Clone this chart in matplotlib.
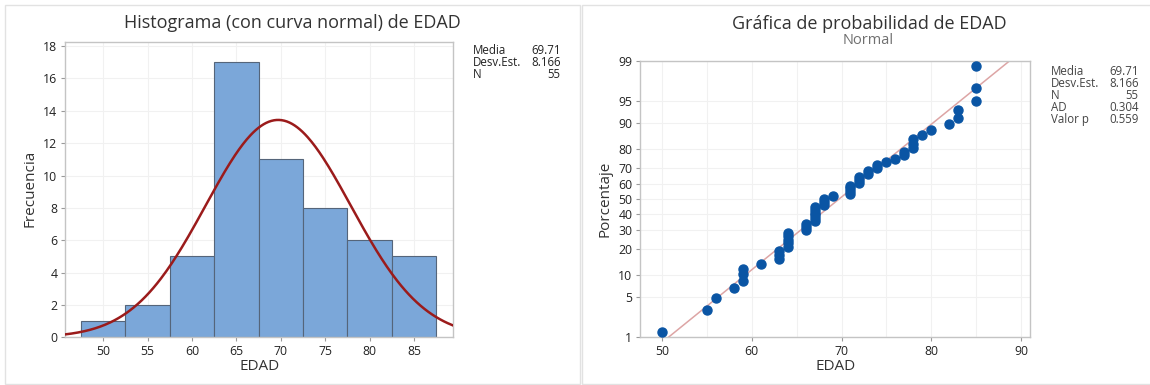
import numpy as np
import matplotlib
matplotlib.use('Agg')
import matplotlib.pyplot as plt
from matplotlib.patches import Rectangle
from statistics import NormalDist

# datos de EDAD (valores distintos y cuantas veces aparecen)
edad_vals = [50, 55, 56, 58, 59, 61, 63, 64, 66, 67, 68, 69, 71, 72,
             73, 74, 75, 76, 77, 78, 79, 80, 82, 83, 85]
edad_counts = [1, 1, 1, 1, 3, 1, 3, 5, 3, 6, 3, 1, 4, 3,
               2, 2, 1, 1, 2, 3, 1, 1, 1, 2, 3]

media = 69.71
desv = 8.166

stats_hist_lbl = ['Media', 'Desv.Est.', 'N']
stats_hist_val = ['69.71', '8.166', '55']
stats_prob_lbl = ['Media', 'Desv.Est.', 'N', 'AD', 'Valor p']
stats_prob_val = ['69.71', '8.166', '55', '0.304', '0.559']

pct_ticks = [1, 5, 10, 20, 30, 40, 50, 60, 70, 80, 90, 95, 99]

edad = np.repeat(edad_vals, edad_counts)
n = len(edad)

plt.rcParams['font.family'] = ['Open Sans', 'DejaVu Sans']
W, H = 1150, 385
fig = plt.figure(figsize=(W / 100, H / 100), dpi=100)

def fx(px):
    return px / W

def fy(py):
    return 1 - py / H

txt_col = '#222222'
spine_col = '#C4C4C4'
grid_col = '#F1F1F1'

# marcos de los paneles
fig.add_artist(Rectangle((fx(5), fy(384)), fx(575), fy(5) - fy(384), transform=fig.transFigure,
                         fill=False, ec='#E2E2E2', lw=1))
fig.add_artist(Rectangle((fx(582), fy(384)), fx(570), fy(5) - fy(384), transform=fig.transFigure,
                         fill=False, ec='#E2E2E2', lw=1))

def style_ax(ax):
    for s in ax.spines.values():
        s.set_color(spine_col)
        s.set_linewidth(1)
    ax.tick_params(direction='out', length=3, width=0.8, color='#9A9A9A',
                   labelsize=8.8, labelcolor=txt_col, pad=2.5)
    ax.set_axisbelow(True)

# ---- histograma ----
ax1 = fig.add_axes([fx(65), fy(337.3), fx(388), fy(41.7) - fy(337.3)])
style_ax(ax1)
bins = np.arange(47.5, 92.5, 5)
ax1.hist(edad, bins=bins, color='#7BA7D9', edgecolor='#55657A', linewidth=0.8, zorder=2)
xc = np.linspace(45.7, 89.4, 300)
nd = NormalDist(media, desv)
ax1.plot(xc, [n * 5 * nd.pdf(v) for v in xc], color='#9B1B1B', lw=1.8, zorder=3)
ax1.set_xlim(45.7, 89.4)
ax1.set_ylim(0, 18.27)
ax1.set_xticks(range(50, 90, 5))
ax1.set_yticks(range(0, 20, 2))
ax1.grid(True, color=grid_col, lw=0.8)

fig.text(fx(292), fy(23), 'Histograma (con curva normal) de EDAD', ha='center', va='center',
         fontsize=13, color='#333333')
fig.text(fx(260), fy(367), 'EDAD', ha='center', va='center', fontsize=11, color='#333333')
fig.text(fx(30), fy(188), 'Frecuencia', ha='center', va='center', rotation=90,
         fontsize=11, color='#333333')
for i, (l, v) in enumerate(zip(stats_hist_lbl, stats_hist_val)):
    fig.text(fx(473), fy(51 + 12 * i), l, ha='left', va='center', fontsize=8.3, color=txt_col)
    fig.text(fx(560.6), fy(51 + 12 * i), v, ha='right', va='center', fontsize=8.3, color=txt_col)

# ---- grafica de probabilidad ----
ax2 = fig.add_axes([fx(640), fy(337.3), fx(390), fy(61) - fy(337.3)])
style_ax(ax2)
std_nd = NormalDist()
z = [std_nd.inv_cdf((i - 0.3) / (n + 0.4)) for i in range(1, n + 1)]
z_lo, z_hi = std_nd.inv_cdf(0.01), std_nd.inv_cdf(0.99)
ax2.plot([media + desv * z_lo, media + desv * z_hi], [z_lo, z_hi], color='#DDA5A5', lw=1.1, zorder=2)
ax2.plot(np.sort(edad), z, 'o', color='#0A55A4', ms=6.5, mec='#0A55A4', zorder=3)
ax2.set_xlim(47.55, 91.0)
ax2.set_ylim(z_lo, z_hi)
ax2.set_xticks(range(50, 100, 10))
ax2.set_xticks(range(55, 95, 10), minor=True)
ax2.tick_params(which='minor', length=0)
ax2.set_yticks([std_nd.inv_cdf(p / 100) for p in pct_ticks])
ax2.set_yticklabels([str(p) for p in pct_ticks])
ax2.grid(True, which='both', color=grid_col, lw=0.8)

fig.text(fx(869), fy(24), 'Gráfica de probabilidad de EDAD', ha='center', va='center',
         fontsize=13, color='#333333')
fig.text(fx(868), fy(40), 'Normal', ha='center', va='center', fontsize=10.5, color='#707070')
fig.text(fx(836), fy(367), 'EDAD', ha='center', va='center', fontsize=11, color='#333333')
fig.text(fx(605), fy(199), 'Porcentaje', ha='center', va='center', rotation=90,
         fontsize=11, color='#333333')
for i, (l, v) in enumerate(zip(stats_prob_lbl, stats_prob_val)):
    fig.text(fx(1051), fy(71.7 + 12 * i), l, ha='left', va='center', fontsize=8.3, color='#444444')
    fig.text(fx(1138.5), fy(71.7 + 12 * i), v, ha='right', va='center', fontsize=8.3, color='#444444')

fig.savefig('out.png', dpi=100)
